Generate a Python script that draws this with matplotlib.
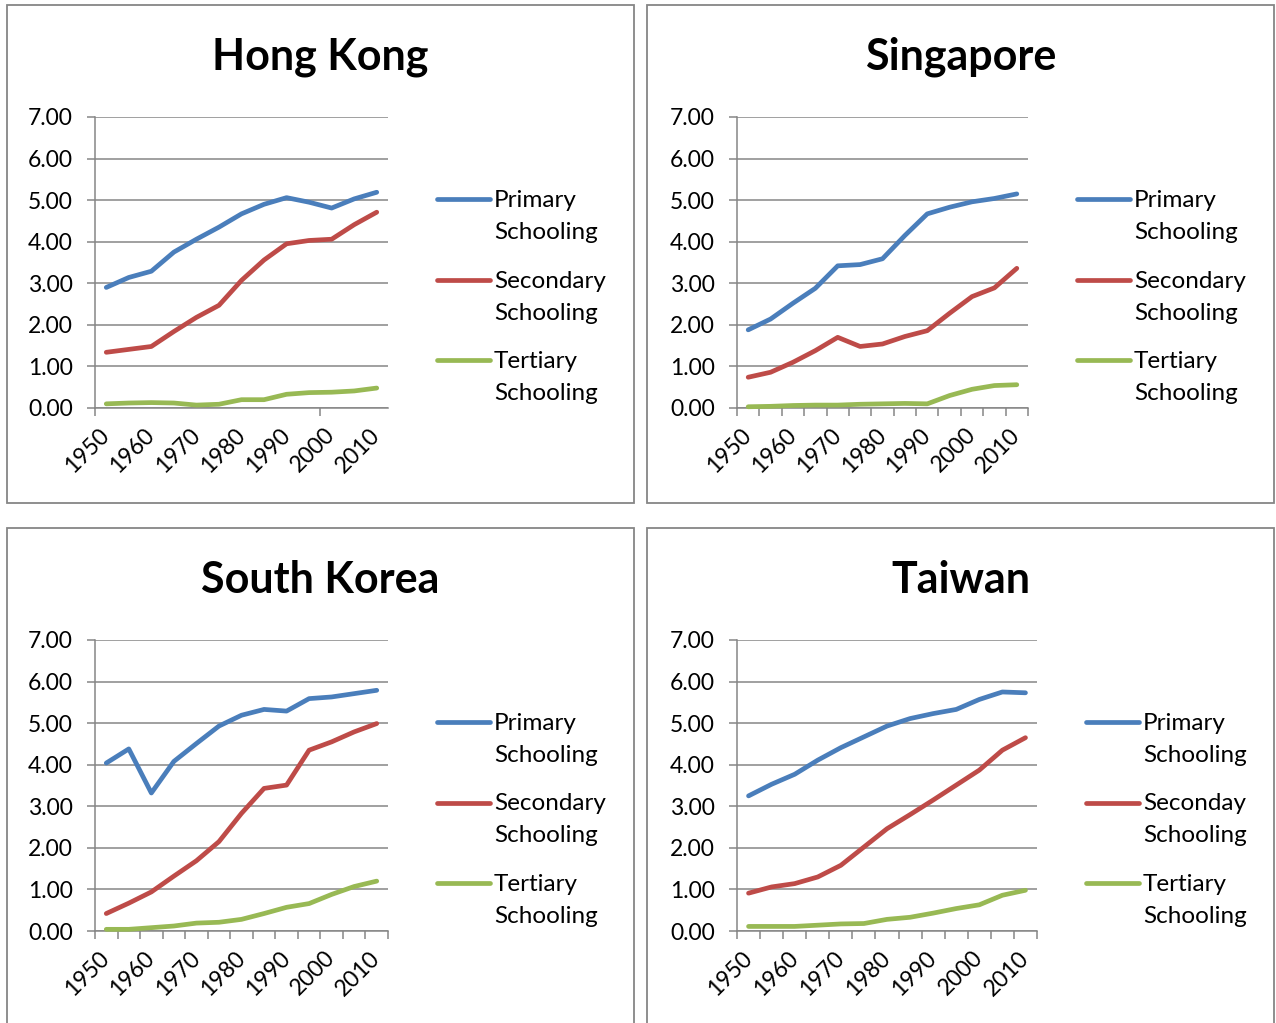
import matplotlib
matplotlib.use("Agg")
import matplotlib.pyplot as plt
from matplotlib.patches import Rectangle
from matplotlib.lines import Line2D
from matplotlib.ticker import FixedLocator

W, H = 1276, 1023
FONT = "Lato"
GRAY = "#868686"
COLORS = ["#4A7EBB", "#BE4B48", "#98B954"]

YEARS = [str(y) for y in range(1950, 2011, 5)]
YTICKS = [0, 1, 2, 3, 4, 5, 6, 7]

HK_PRIMARY = [2.90, 3.14, 3.29, 3.75, 4.06, 4.35, 4.67, 4.90, 5.06, 4.95, 4.81, 5.03, 5.19]
HK_SECONDARY = [1.34, 1.41, 1.48, 1.84, 2.18, 2.47, 3.07, 3.56, 3.95, 4.03, 4.06, 4.41, 4.71]
HK_TERTIARY = [0.10, 0.12, 0.13, 0.12, 0.07, 0.09, 0.20, 0.20, 0.33, 0.37, 0.38, 0.41, 0.48]

SG_PRIMARY = [1.88, 2.14, 2.52, 2.88, 3.42, 3.45, 3.59, 4.15, 4.67, 4.83, 4.96, 5.04, 5.15]
SG_SECONDARY = [0.74, 0.86, 1.10, 1.38, 1.70, 1.48, 1.54, 1.72, 1.86, 2.28, 2.68, 2.89, 3.36]
SG_TERTIARY = [0.03, 0.04, 0.06, 0.07, 0.07, 0.09, 0.10, 0.11, 0.10, 0.30, 0.45, 0.54, 0.56]

KR_PRIMARY = [4.04, 4.38, 3.32, 4.08, 4.51, 4.93, 5.19, 5.33, 5.29, 5.59, 5.63, 5.71, 5.79]
KR_SECONDARY = [0.42, 0.67, 0.94, 1.32, 1.69, 2.15, 2.83, 3.43, 3.51, 4.35, 4.55, 4.79, 4.99]
KR_TERTIARY = [0.04, 0.04, 0.08, 0.12, 0.19, 0.21, 0.28, 0.42, 0.57, 0.66, 0.88, 1.07, 1.20]

TW_PRIMARY = [3.25, 3.53, 3.77, 4.11, 4.41, 4.67, 4.93, 5.11, 5.23, 5.33, 5.57, 5.75, 5.73]
TW_SECONDARY = [0.91, 1.06, 1.14, 1.30, 1.58, 2.02, 2.46, 2.80, 3.15, 3.51, 3.87, 4.35, 4.65]
TW_TERTIARY = [0.11, 0.11, 0.11, 0.14, 0.17, 0.18, 0.28, 0.33, 0.43, 0.54, 0.63, 0.86, 0.98]

LABELS = ["Primary\nSchooling", "Secondary\nSchooling", "Tertiary\nSchooling"]
LABELS_TW = ["Primary\nSchooling", "Seconday\nSchooling", "Tertiary\nSchooling"]


def fx(x):
    return x / W


def fy(y):
    return 1 - y / H


def draw_panel(fig, box, plot, title, series, labels, leg_dx, minor_ticks):
    bl, bt, br, bb = box
    fig.add_artist(Rectangle((fx(bl), fy(bb)), fx(br - bl), (bb - bt) / H,
                             fill=False, edgecolor=GRAY, linewidth=1.3,
                             transform=fig.transFigure))
    fig.text(fx((bl + br) / 2), fy(bt + 52), title, ha="center", va="center",
             fontsize=31, fontweight="bold", family=FONT)

    pl, pt, pr, pb = plot
    ax = fig.add_axes([fx(pl), fy(pb), fx(pr - pl), (pb - pt) / H])
    x = list(range(len(YEARS)))
    for vals, c in zip(series, COLORS):
        ax.plot(x, vals, color=c, linewidth=3.4, solid_capstyle="round",
                solid_joinstyle="round", clip_on=False, zorder=3)

    ax.set_xlim(-0.5, len(YEARS) - 0.5)
    ax.set_ylim(0, 7)
    ax.set_yticks(YTICKS)
    ax.set_yticklabels(["%.2f" % v for v in YTICKS], family=FONT, fontsize=16.5)
    ax.set_xticks(x[::2])
    ax.set_xticklabels(YEARS[::2], rotation=45, ha="right", va="center",
                       rotation_mode="anchor", family=FONT, fontsize=16.5)
    ax.xaxis.set_minor_locator(FixedLocator(minor_ticks))
    ax.tick_params(axis="x", which="major", length=0, pad=17)
    ax.tick_params(axis="x", which="minor", length=6, width=1.1, color=GRAY)
    ax.tick_params(axis="y", length=6, width=1.1, color=GRAY, pad=10)
    ax.grid(axis="y", color=GRAY, linewidth=1.1)
    ax.set_axisbelow(True)
    for s in ["top", "right"]:
        ax.spines[s].set_visible(False)
    for s in ["left", "bottom"]:
        ax.spines[s].set_color(GRAY)
        ax.spines[s].set_linewidth(1.1)

    for i, (lab, c) in enumerate(zip(labels, COLORS)):
        ly = bt + 194 + i * 80.5
        fig.add_artist(Line2D([fx(bl + leg_dx), fx(bl + leg_dx + 53)], [fy(ly), fy(ly)],
                              color=c, linewidth=3.4, solid_capstyle="round",
                              transform=fig.transFigure))
        for k, part in enumerate(lab.split("\n")):
            fig.text(fx(bl + leg_dx + 57), fy(ly + 8 + k * 32), part, ha="left",
                     va="baseline", fontsize=17.5, family=FONT)
    return ax


def main():
    fig = plt.figure(figsize=(W / 100, H / 100), dpi=100)
    every = [i - 0.5 for i in range(len(YEARS) + 1)]

    draw_panel(fig, (7, 5, 634, 503), (95, 117, 388, 408), "Hong Kong",
               [HK_PRIMARY, HK_SECONDARY, HK_TERTIARY], LABELS, 430, [-0.5, 9.5])
    draw_panel(fig, (647, 5, 1274, 503), (737, 117, 1028, 408), "Singapore",
               [SG_PRIMARY, SG_SECONDARY, SG_TERTIARY], LABELS, 430, every)
    draw_panel(fig, (7, 528, 634, 1027), (95, 640, 388, 931), "South Korea",
               [KR_PRIMARY, KR_SECONDARY, KR_TERTIARY], LABELS, 430, every)
    draw_panel(fig, (647, 528, 1274, 1027), (737, 640, 1037, 931), "Taiwan",
               [TW_PRIMARY, TW_SECONDARY, TW_TERTIARY], LABELS_TW, 439, every)

    fig.savefig("out.png", dpi=100, facecolor="white")


if __name__ == "__main__":
    main()
